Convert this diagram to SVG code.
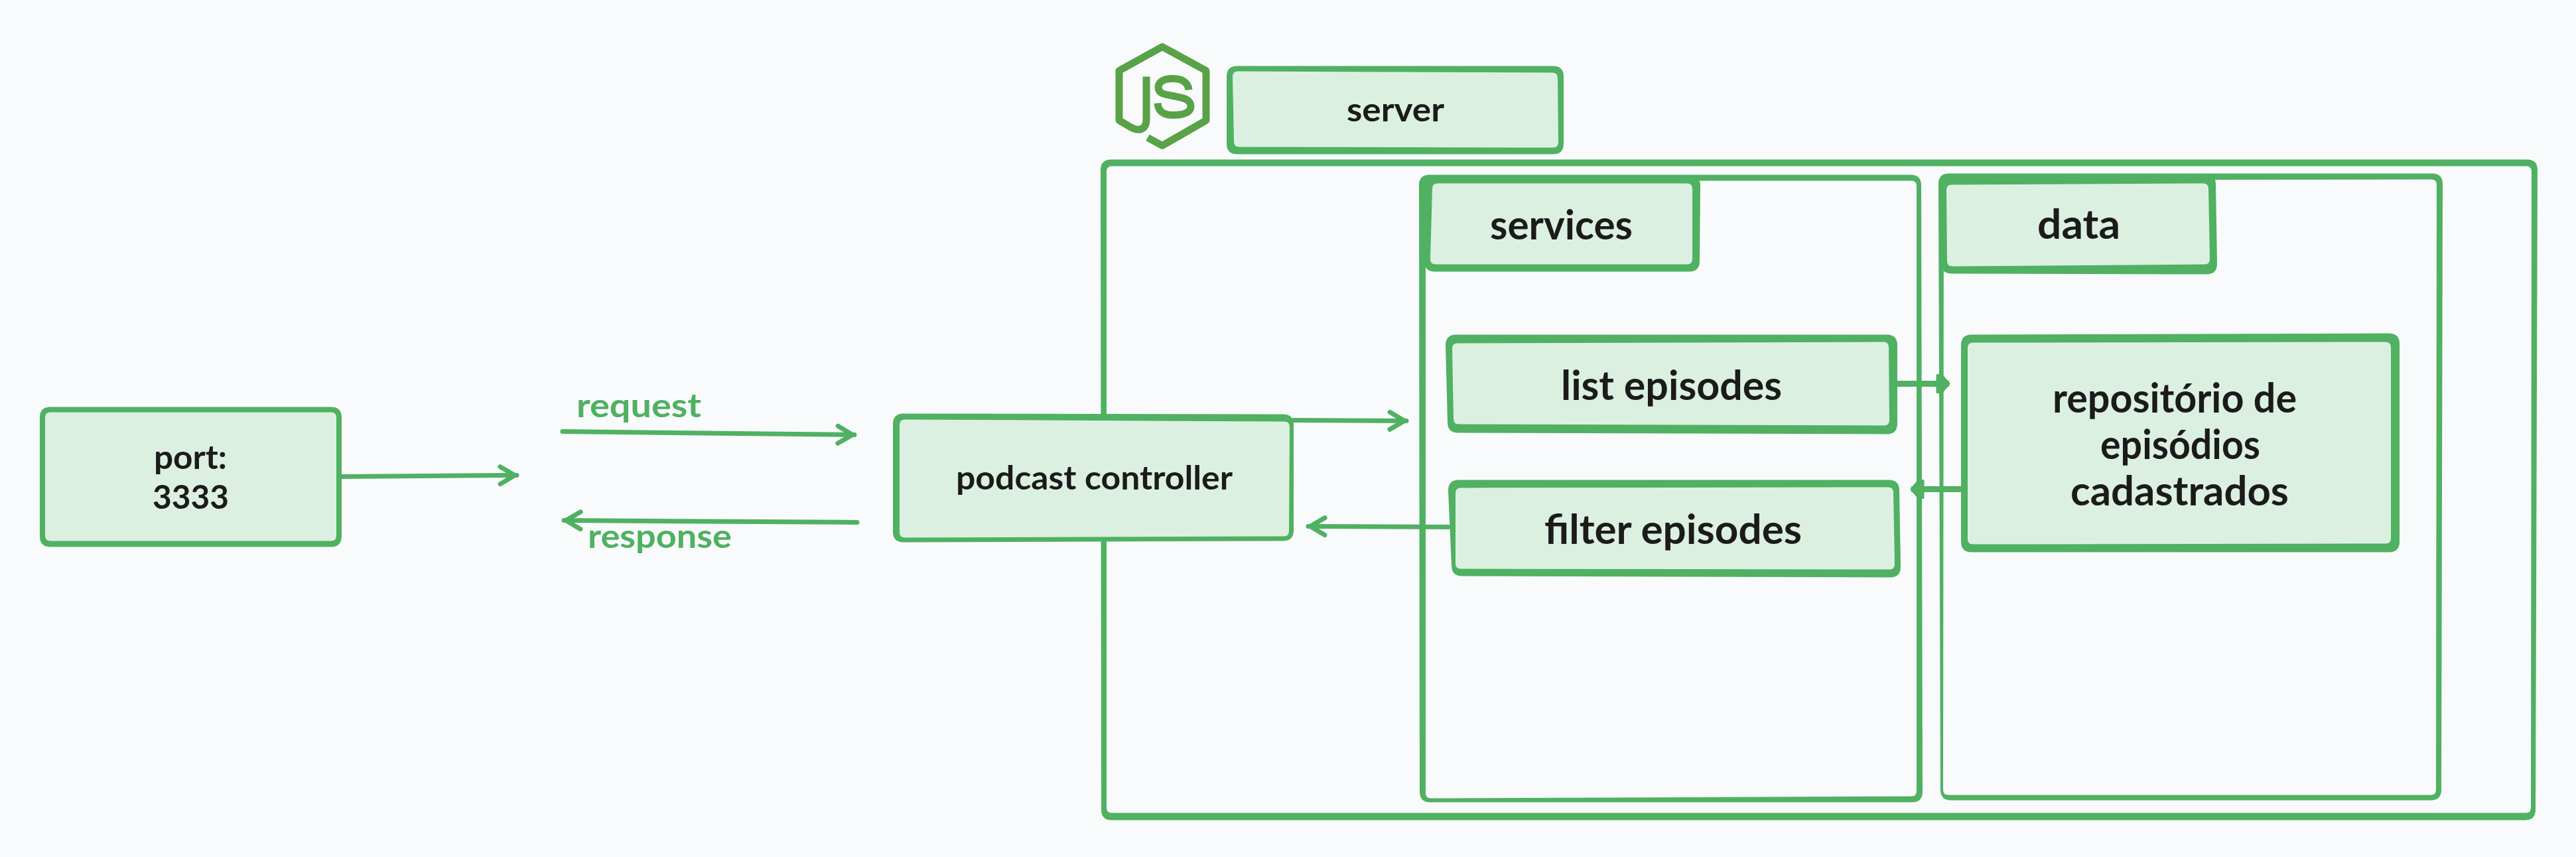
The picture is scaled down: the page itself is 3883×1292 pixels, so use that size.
<svg xmlns="http://www.w3.org/2000/svg" width="3883" height="1292" viewBox="0 0 3883 1292">
<style>
.bg{fill:#f9fafc}
.o{fill:#4fb161}
.i{fill:#dcf0e1}
.f{fill:#4fb161;fill-rule:evenodd}
.t{font-family:"Lato","Noto Sans",sans-serif;font-weight:700;fill:#1b1b1b}
.g{fill:#4fb161}
.l{font-family:"Lato","Noto Sans",sans-serif;font-weight:700}
.s{font-size:50px}
.m{font-size:62px}
.c{fill:none;stroke:#4fb161;stroke-width:7;stroke-linecap:round}
.b{stroke-width:9;stroke-linecap:butt}
.js{fill:none;stroke:#58a247;stroke-width:11}
</style>
<defs>
<marker id="open" markerUnits="userSpaceOnUse" markerWidth="40" markerHeight="40" refX="33" refY="20" orient="auto" overflow="visible"><path d="M8,7 L30,20 L8,33" fill="none" stroke="#4fb161" stroke-width="7" stroke-linecap="round" stroke-linejoin="round"/></marker>
<marker id="solid" markerUnits="userSpaceOnUse" markerWidth="40" markerHeight="40" refX="30" refY="20" orient="auto" overflow="visible"><path d="M12,7 L12,33 L19,33 L30,20 L19,7 Z" fill="#4fb161" stroke="#4fb161" stroke-width="3" stroke-linejoin="round"/></marker>
</defs>
<rect class="bg" width="3883" height="1292"/>
<g transform="translate(0,1.5)">
<g id="logo-js">
<path class="js" stroke-linejoin="round" d="M1730,206 L1752,218 L1818,180 L1818,105 L1752,69 L1687,105 L1687,180 L1704,190 C1716,197 1728,195 1728,178 L1728,114"/>
<path class="js" d="M1792,134 C1791,122 1781,117 1768,117 C1754,117 1746,122 1746,130 C1746,140 1756,141 1768,143 C1784,146 1795,148 1795,159 C1795,168 1784,172 1769,172 C1754,172 1746,167 1745,154"/>
</g>
<g id="server-frame">
<path class="f" d="M1675,239 L3809,239 Q3825,239 3825,255 L3822,1219 Q3822,1235 3806,1235 L1676,1235 Q1660,1235 1660,1219 L1659,255 Q1659,239 1675,239 Z M1676,249 L3808,249 Q3816,249 3816,257 L3815,1216 Q3815,1224 3807,1224 L1676,1224 Q1668,1224 1668,1216 L1668,257 Q1668,249 1676,249 Z"/>
</g>
<g id="services-frame">
<path class="f" d="M2155,262 L2880,262 Q2896,262 2896,278 L2898,1192 Q2898,1208 2882,1208 L2156,1208 Q2140,1208 2140,1192 L2139,278 Q2139,262 2155,262 Z M2157,271 L2881,271 Q2889,271 2889,279 L2889,1191 Q2889,1199 2881,1199 L2157,1202 Q2149,1202 2149,1194 L2149,279 Q2149,271 2157,271 Z"/>
</g>
<g id="data-frame">
<path class="f" d="M2938,260 L3666,260 Q3682,260 3682,276 L3680,1189 Q3680,1205 3664,1205 L2941,1205 Q2925,1205 2925,1189 L2922,276 Q2922,260 2938,260 Z M2938,270 L3665,269 Q3673,269 3673,277 L3672,1189 Q3672,1197 3664,1197 L2937,1197 Q2929,1197 2929,1189 L2930,278 Q2930,270 2938,270 Z"/>
</g>
<g id="connectors">
<path class="c" marker-end="url(#open)" d="M515,717 L779,715"/>
<path class="c" marker-end="url(#open)" d="M848,649 L1288,654"/>
<path class="c" marker-end="url(#open)" d="M1292,786 L850,783"/>
<path class="c" marker-end="url(#open)" d="M1950,632 L2120,633"/>
<path class="c" marker-end="url(#open)" d="M2183,793 L1972,792"/>
<path class="c b" marker-end="url(#solid)" d="M2858,577 L2938,577"/>
<path class="c b" marker-end="url(#solid)" d="M2966,736 L2881,736"/>
</g>
<g id="node-port">
<path class="o" d="M76,612 L499,612 Q515,612 515,628 L515,807 Q515,823 499,823 L76,823 Q60,823 60,807 L60,628 Q60,612 76,612 Z"/>
<path class="i" d="M76,620 L499,620 Q507,620 507,628 L507,806 Q507,814 499,814 L76,814 Q68,814 68,806 L68,628 Q68,620 76,620 Z"/>
<text class="t s" x="232" y="705" textLength="110" lengthAdjust="spacingAndGlyphs">port:</text>
<text class="t s" x="230" y="765" textLength="115" lengthAdjust="spacingAndGlyphs">3333</text>
</g>
<g id="label-request"><text class="g l s" x="869" y="627" textLength="188" lengthAdjust="spacingAndGlyphs">request</text></g>
<g id="label-response"><text class="g l s" x="886" y="824" textLength="217" lengthAdjust="spacingAndGlyphs">response</text></g>
<g id="node-server">
<path class="o" d="M1865,98 L2341,98 Q2357,98 2357,114 L2357,215 Q2357,231 2341,231 L1865,231 Q1849,231 1849,215 L1849,114 Q1849,98 1865,98 Z"/>
<path class="i" d="M1866,106 L2340,108 Q2348,108 2348,116 L2349,213 Q2349,221 2341,221 L1868,220 Q1860,220 1860,212 L1858,114 Q1858,106 1866,106 Z"/>
<text class="t s" x="2030" y="181" textLength="147" lengthAdjust="spacingAndGlyphs">server</text>
</g>
<g id="node-controller">
<path class="o" d="M1362,622 L1934,623 Q1950,623 1950,639 L1950,798 Q1950,814 1934,814 L1362,816 Q1346,816 1346,800 L1346,638 Q1346,622 1362,622 Z"/>
<path class="i" d="M1364,631 L1936,634 Q1944,634 1944,642 L1943,799 Q1943,807 1935,807 L1364,809 Q1356,809 1356,801 L1356,639 Q1356,631 1364,631 Z"/>
<text class="t s" x="1441" y="736" textLength="417" lengthAdjust="spacingAndGlyphs">podcast controller</text>
</g>
<g id="node-services">
<path class="o" d="M2155,263 L2547,263 Q2563,263 2563,279 L2562,392 Q2562,408 2546,408 L2163,408 Q2147,408 2147,392 L2139,279 Q2139,263 2155,263 Z"/>
<path class="i" d="M2167,275 L2543,275 Q2551,275 2551,283 L2551,389 Q2551,397 2543,397 L2164,397 Q2156,397 2156,389 L2159,283 Q2159,275 2167,275 Z"/>
<text class="t m" x="2246" y="359" textLength="215" lengthAdjust="spacingAndGlyphs">services</text>
</g>
<g id="node-data">
<path class="o" d="M2938,261 L3324,261 Q3340,261 3340,277 L3342,396 Q3342,412 3326,412 L2942,411 Q2926,411 2926,395 L2922,277 Q2922,261 2938,261 Z"/>
<path class="i" d="M2942,277 L3321,275 Q3329,275 3329,283 L3331,389 Q3331,397 3323,397 L2943,400 Q2935,400 2935,392 L2934,285 Q2934,277 2942,277 Z"/>
<text class="t m" x="3071" y="358" textLength="125" lengthAdjust="spacingAndGlyphs">data</text>
</g>
<g id="node-list">
<path class="o" d="M2195,503 L2844,503 Q2860,503 2860,519 L2860,637 Q2860,653 2844,653 L2198,651 Q2182,651 2182,635 L2179,519 Q2179,503 2195,503 Z"/>
<path class="i" d="M2197,516 L2839,514 Q2847,514 2847,522 L2848,632 Q2848,640 2840,640 L2199,638 Q2191,638 2191,630 L2189,524 Q2189,516 2197,516 Z"/>
<text class="t m" x="2353" y="601" textLength="333" lengthAdjust="spacingAndGlyphs">list episodes</text>
</g>
<g id="node-filter">
<path class="o" d="M2199,722 L2847,722 Q2863,722 2863,738 L2865,853 Q2865,869 2849,869 L2204,867 Q2188,867 2188,851 L2183,738 Q2183,722 2199,722 Z"/>
<path class="i" d="M2202,734 L2846,733 Q2854,733 2854,741 L2856,849 Q2856,857 2848,857 L2202,856 Q2194,856 2194,848 L2194,742 Q2194,734 2202,734 Z"/>
<text class="t m" x="2328" y="818" textLength="388" lengthAdjust="spacingAndGlyphs">filter episodes</text>
</g>
<g id="node-repo">
<path class="o" d="M2972,503 L3601,501 Q3617,501 3617,517 L3617,815 Q3617,831 3601,831 L2972,831 Q2956,831 2956,815 L2956,519 Q2956,503 2972,503 Z"/>
<path class="i" d="M2974,515 L3596,514 Q3604,514 3604,522 L3604,810 Q3604,818 3596,818 L2974,819 Q2966,819 2966,811 L2966,523 Q2966,515 2974,515 Z"/>
<text class="t m" x="3094" y="620" textLength="368" lengthAdjust="spacingAndGlyphs">repositório de</text>
<text class="t m" x="3166" y="690" textLength="241" lengthAdjust="spacingAndGlyphs">episódios</text>
<text class="t m" x="3121" y="760" textLength="329" lengthAdjust="spacingAndGlyphs">cadastrados</text>
</g>
</g>
</svg>
